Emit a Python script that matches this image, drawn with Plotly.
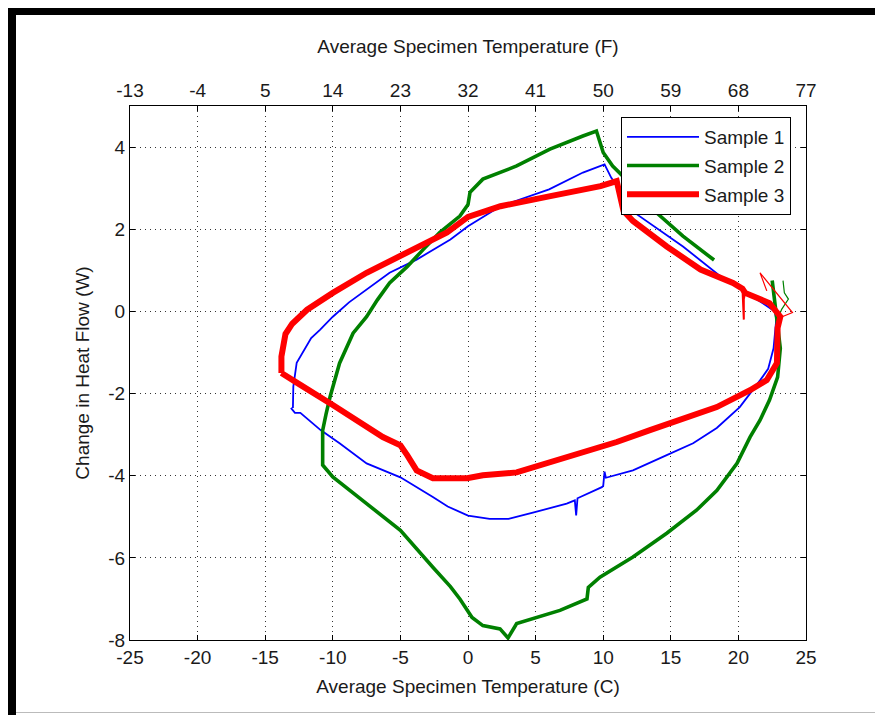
import plotly.graph_objects as go

# ---------------- data ----------------
tick_c = [-25, -20, -15, -10, -5, 0, 5, 10, 15, 20, 25]
tick_f = ["-13", "-4", "5", "14", "23", "32", "41", "50", "59", "68", "77"]
tick_w = [-8, -6, -4, -2, 0, 2, 4]

s1_x = [-12.95, -12.92, -12.67, -12.2, -11.6, -10.95, -10.0, -8.8, -7.5, -5.8, -3.8, -1.3, 0.0,
        2.4, 6.0, 8.5, 10.1, 10.6, 12.5, 15.9, 18.5, 20.9, 21.8, 22.7, 22.8, 22.6, 22.2, 21.6,
        20.1, 18.4, 16.65, 14.7, 12.2, 10.2, 10.1, 10.0, 9.9, 8.1, 8.0, 7.9, 7.3, 4.8, 3.0, 1.6,
        0.0, -1.5, -2.6, -5.0, -7.5, -9.5, -10.9, -12.4, -12.8, -13.1]
s1_y = [-2.35, -1.83, -1.25, -1.0, -0.65, -0.45, -0.13, 0.22, 0.53, 0.94, 1.26, 1.75, 2.07,
        2.56, 2.97, 3.38, 3.58, 3.25, 2.36, 1.58, 0.9, 0.4, 0.2, 0.0, -0.2, -0.9, -1.4, -1.68,
        -2.33, -2.84, -3.21, -3.5, -3.87, -4.05, -3.9, -4.25, -4.28, -4.55, -4.97, -4.6, -4.68,
        -4.9, -5.05, -5.05, -4.97, -4.75, -4.52, -4.04, -3.7, -3.21, -2.89, -2.47, -2.47, -2.35]

s2_x = [22.5, 22.7, 22.9, 23.1, 22.9, 22.3, 21.6, 20.86, 19.9, 18.4, 16.9, 14.7, 12.2, 9.76,
        8.9, 8.8, 6.8, 4.8, 3.6, 2.96, 2.37, 1.1, 0.3, -0.6, -1.3, -2.6, -5.0, -7.5, -10.0,
        -10.75, -10.75, -10.5, -10.2, -9.5, -8.5, -7.5, -6.7, -5.8, -4.5, -3.3, -2.1, -0.6,
        0.0, 0.15, 1.1, 3.6, 6.06, 8.5, 9.5, 10.0, 10.7, 12.2, 13.95, 15.9, 18.2]
s2_y = [0.75, 0.2, -0.2, -0.9, -1.6, -2.16, -2.65, -3.06, -3.7, -4.36, -4.84, -5.4, -5.98, -6.47,
        -6.72, -7.0, -7.28, -7.48, -7.6, -7.95, -7.73, -7.65, -7.45, -7.0, -6.7, -6.23, -5.33,
        -4.68, -4.03, -3.74, -2.9, -2.5, -2.08, -1.26, -0.53, -0.13, 0.28, 0.69, 1.09, 1.51,
        1.92, 2.32, 2.6, 2.9, 3.22, 3.54, 3.95, 4.27, 4.39, 3.87, 3.54, 3.05, 2.4, 1.83, 1.25]

s2_spur_x = [23.3, 23.4, 23.7, 23.2, 22.9]
s2_spur_y = [0.75, 0.45, 0.3, 0.05, -0.2]

s3_x = [-13.8, -13.8, -13.5, -13.0, -11.9, -10.0, -7.5, -5.55, -3.55, -1.55, 0.0, 2.4, 6.0,
        9.8, 11.0, 11.5, 12.2, 14.7, 17.2, 19.6, 20.3, 20.5, 22.3, 23.1, 22.9, 22.85,
        22.1, 20.86, 18.4, 15.9, 13.46, 11.0, 8.5, 6.06, 3.6, 1.1, -0.07, -2.6, -3.8, -4.5,
        -5.0, -6.3, -7.5, -10.0, -12.4, -13.7, -13.8]
s3_y = [-1.5, -1.1, -0.55, -0.3, 0.04, 0.45, 0.94, 1.26, 1.58, 1.92, 2.3, 2.56, 2.8,
        3.05, 3.17, 2.45, 2.2, 1.58, 1.02, 0.69, 0.55, 0.45, 0.2, -0.13, -0.4, -1.26,
        -1.67, -1.92, -2.33, -2.6, -2.89, -3.18, -3.43, -3.7, -3.92, -3.99, -4.06, -4.06,
        -3.87, -3.5, -3.26, -3.06, -2.82, -2.28, -1.79, -1.55, -1.5]

# thin excursions of sample 3 (spike near 20.4 C and the loop at the hot end)
s3_spike_x = [20.3, 20.4, 20.4, 20.5]
s3_spike_y = [0.55, -0.2, 0.3, 0.45]
s3_spur_x = [22.1, 21.6, 24.0, 23.1]
s3_spur_y = [0.5, 0.94, -0.03, -0.15]

# ---------------- figure ----------------
FONT = "Liberation Sans, Arial, sans-serif"
TXT = "#1a1a1a"
W, H = 875, 707
L, T, R, B = 122, 98, 77, 75

fig = go.Figure()
fig.add_trace(go.Scatter(x=s1_x, y=s1_y, mode="lines", name="Sample 1", legendgroup="g1",
                         line=dict(color="#0000ff", width=1.8)))
fig.add_trace(go.Scatter(x=s2_x, y=s2_y, mode="lines", name="Sample 2", legendgroup="g2",
                         line=dict(color="#008000", width=3.6)))
fig.add_trace(go.Scatter(x=s2_spur_x, y=s2_spur_y, mode="lines", name="Sample 2", legendgroup="g2",
                         showlegend=False, line=dict(color="#008000", width=1.2)))
fig.add_trace(go.Scatter(x=s3_x, y=s3_y, mode="lines", name="Sample 3", legendgroup="g3",
                         line=dict(color="#ff0000", width=6)))
fig.add_trace(go.Scatter(x=s3_spike_x, y=s3_spike_y, mode="lines", name="Sample 3", legendgroup="g3",
                         showlegend=False, line=dict(color="#ff0000", width=2)))
fig.add_trace(go.Scatter(x=s3_spur_x, y=s3_spur_y, mode="lines", name="Sample 3", legendgroup="g3",
                         showlegend=False, line=dict(color="#ff0000", width=1.2)))
# carrier for the top (Fahrenheit) axis
fig.add_trace(go.Scatter(x=[tick_c[0], tick_c[-1]], y=[None, None], xaxis="x2", mode="lines",
                         showlegend=False, hoverinfo="skip"))

axis_common = dict(ticks="inside", ticklen=5, tickcolor="black", showline=True,
                   linecolor="black", linewidth=1, zeroline=False,
                   tickfont=dict(size=19, color=TXT, family=FONT))

fig.update_layout(
    width=W, height=H,
    margin=dict(l=L, r=R, t=T, b=B),
    paper_bgcolor="white", plot_bgcolor="white",
    font=dict(family=FONT, size=19, color=TXT),
    xaxis=dict(range=[-25, 25], tickvals=tick_c, ticktext=[str(v) for v in tick_c],
               showgrid=True, gridcolor="#333333", griddash="1px,4px", gridwidth=1,
               title=dict(text="Average Specimen Temperature (C)", font=dict(size=19, color=TXT),
                          standoff=12),
               **axis_common),
    xaxis2=dict(range=[-25, 25], overlaying="x", side="top", tickvals=tick_c, ticktext=tick_f,
                showgrid=False,
                title=dict(text="Average Specimen Temperature (F)", font=dict(size=19, color=TXT),
                           standoff=21),
                **axis_common),
    yaxis=dict(range=[-8, 5], tickvals=tick_w, ticktext=[str(v) for v in tick_w], mirror="ticks",
               showgrid=True, gridcolor="#333333", griddash="1px,4px", gridwidth=1,
               title=dict(text="Change in Heat Flow (W)", font=dict(size=19, color=TXT),
                          standoff=13),
               **axis_common),
    legend=dict(x=(613 - L) / 676.0, y=(632 - 109) / 534.0, xanchor="left", yanchor="top",
                bgcolor="white", bordercolor="black", borderwidth=1,
                font=dict(size=19, color=TXT), itemwidth=72,
                traceorder="grouped", tracegroupgap=1),
    showlegend=True,
)

# black window frame (left and top), thin grey bottom edge
def px_x(p):
    return (p - L) / 676.0

def px_y(p):
    return (632 - p) / 534.0

fig.add_shape(type="rect", xref="paper", yref="paper", x0=px_x(0), x1=px_x(8),
              y0=px_y(H), y1=px_y(0), fillcolor="black", line=dict(width=0))
fig.add_shape(type="rect", xref="paper", yref="paper", x0=px_x(0), x1=px_x(W),
              y0=px_y(7), y1=px_y(0), fillcolor="black", line=dict(width=0))
fig.add_shape(type="line", xref="paper", yref="paper", x0=px_x(8), x1=px_x(W),
              y0=px_y(704.5), y1=px_y(704.5), line=dict(color="#bbbbbb", width=1))

fig.write_html("out.html")
